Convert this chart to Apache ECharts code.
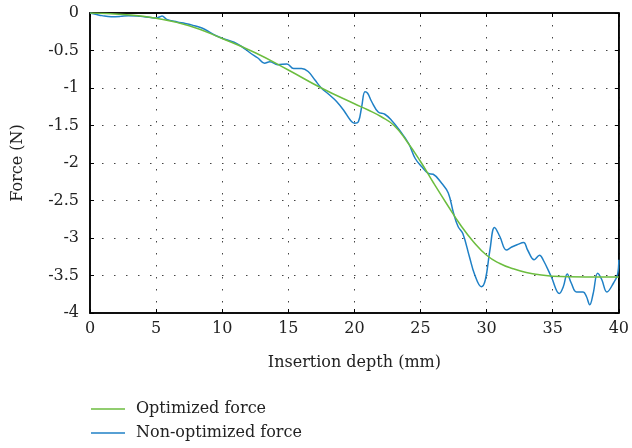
<!DOCTYPE html>
<html style="height: 100%">
<head>
    <meta charset="utf-8" />
    <title>Force chart</title>
    <script type="text/javascript" src="https://cdn.jsdelivr.net/npm/echarts@6/dist/echarts.min.js"></script>
</head>
<body style="height: 100%; margin: 0; background: #fff">
<div id="Chart" style="width: 632px; height: 448px"></div>
<script type="text/javascript">
      // insertion depth (mm) / force (N)
      var optDepth = [0, 2.5, 5, 7.5, 10, 12.5, 15, 17.5, 20, 21, 22, 23, 24, 25, 26, 27, 28, 29, 30, 31, 32, 33, 34, 35, 37.5, 40];
      var optForce = [0, -0.02, -0.07, -0.17, -0.34, -0.53, -0.76, -1.0, -1.21, -1.29, -1.38, -1.5, -1.72, -1.98, -2.27, -2.55, -2.82, -3.05, -3.23, -3.34, -3.41, -3.46, -3.49, -3.51, -3.52, -3.52];

      var rawDepth = [0, 0.5, 0.9, 1.6, 2.3, 2.9, 3.8, 4.6, 5.0, 5.3, 5.45, 5.8, 6.6, 7.2, 7.8, 8.3, 8.7, 9.5, 10.2, 10.9, 11.5, 12.1, 12.7, 13.2, 13.6, 14.2, 14.9, 15.4, 16.0, 16.5, 17.0, 17.5, 18.1, 18.65, 19.2, 19.7, 20.0, 20.3, 20.55, 20.8, 21.0, 21.3, 21.8, 22.3, 22.8, 23.4, 24.1, 24.6, 25.1, 25.6, 25.96, 26.6, 27.1, 27.5, 27.85, 28.2, 28.7, 29.1, 29.6, 29.9, 30.25, 30.6, 31.0, 31.5, 31.9, 32.3, 32.8, 33.1, 33.6, 34.0, 34.3, 34.9, 35.5, 35.8, 36.1, 36.4, 36.8, 37.3, 37.55, 37.8, 38.06, 38.4, 38.7, 39.1, 39.6, 39.9, 40.0];
      var rawForce = [0, -0.02, -0.035, -0.05, -0.045, -0.035, -0.045, -0.06, -0.065, -0.05, -0.04, -0.085, -0.12, -0.14, -0.165, -0.19, -0.22, -0.3, -0.35, -0.39, -0.45, -0.53, -0.6, -0.67, -0.65, -0.69, -0.68, -0.74, -0.74, -0.78, -0.89, -1.0, -1.09, -1.18, -1.3, -1.43, -1.47, -1.45, -1.25, -1.05, -1.07, -1.18, -1.32, -1.35, -1.43, -1.56, -1.74, -1.94, -2.05, -2.14, -2.15, -2.27, -2.4, -2.67, -2.85, -2.94, -3.25, -3.49, -3.65, -3.56, -3.16, -2.86, -2.98, -3.16, -3.12, -3.09, -3.06, -3.16, -3.29, -3.23, -3.3, -3.52, -3.74, -3.65, -3.48, -3.6, -3.72, -3.72, -3.78, -3.89, -3.74, -3.47, -3.55, -3.72, -3.6, -3.49, -3.29];

      var seriesNames = ["Optimized force", "Non-optimized force"];

      function pairs(xs, ys) {
        return xs.map(function (x, i) { return [x, ys[i]]; });
      }

      var font = "DejaVu Serif";
      var dots = { color: "#444", width: 1, type: [1.5, 10.5] };
      var boxLine = { show: true, onZero: false, lineStyle: { color: "#000", width: 1.5 } };
      var inTick = { show: true, inside: true, length: 4, lineStyle: { color: "#000" } };

      function legendRow(name, top) {
        return {
          left: 86, top: top,
          icon: "rect", itemWidth: 34, itemHeight: 1.5,
          textStyle: { fontFamily: font, fontSize: 16, color: "#222", padding: [0, 0, 0, 6] },
          data: [name]
        };
      }

      var myChart = echarts.init(document.getElementById("Chart"));
      var option = {
        backgroundColor: "#fff",
        animation: false,
        textStyle: { fontFamily: font },
        grid: { left: 90, right: 13, top: 13, bottom: 135, show: true, borderColor: "#000", borderWidth: 1.5, backgroundColor: "transparent" },
        legend: [legendRow(seriesNames[0], 396), legendRow(seriesNames[1], 420)],
        xAxis: [{
          type: "value", min: 0, max: 40, interval: 5,
          name: "Insertion depth (mm)", nameLocation: "middle", nameGap: 42,
          nameTextStyle: { fontFamily: font, fontSize: 16, color: "#222" },
          axisLine: boxLine, axisTick: inTick,
          axisLabel: { fontFamily: font, fontSize: 16, color: "#222", margin: 8 },
          splitLine: { show: true, lineStyle: dots }
        }, {
          type: "value", min: 0, max: 40, interval: 5, position: "top",
          axisLine: boxLine, axisTick: inTick,
          axisLabel: { show: false }, splitLine: { show: false }
        }],
        yAxis: [{
          type: "value", min: -4, max: 0, interval: 0.5,
          name: "Force (N)", nameLocation: "middle", nameGap: 64,
          nameTextStyle: { fontFamily: font, fontSize: 16, color: "#222" },
          axisLine: boxLine, axisTick: inTick,
          axisLabel: { fontFamily: font, fontSize: 16, color: "#222", margin: 11 },
          splitLine: { show: true, lineStyle: dots }
        }, {
          type: "value", min: -4, max: 0, interval: 0.5, position: "right",
          axisLine: boxLine, axisTick: inTick,
          axisLabel: { show: false }, splitLine: { show: false }
        }],
        series: [
          {
            name: seriesNames[0], type: "line", smooth: true, showSymbol: false,
            data: pairs(optDepth, optForce),
            itemStyle: { color: "#6cbd3f" },
            lineStyle: { color: "#6cbd3f", width: 1.5 }, z: 3
          },
          {
            name: seriesNames[1], type: "line", smooth: 0.4, showSymbol: false,
            data: pairs(rawDepth, rawForce),
            itemStyle: { color: "#1f80c6" },
            lineStyle: { color: "#1f80c6", width: 1.5 }, z: 2
          }
        ]
      };
      myChart.setOption(option);
</script>
</body>
</html>
